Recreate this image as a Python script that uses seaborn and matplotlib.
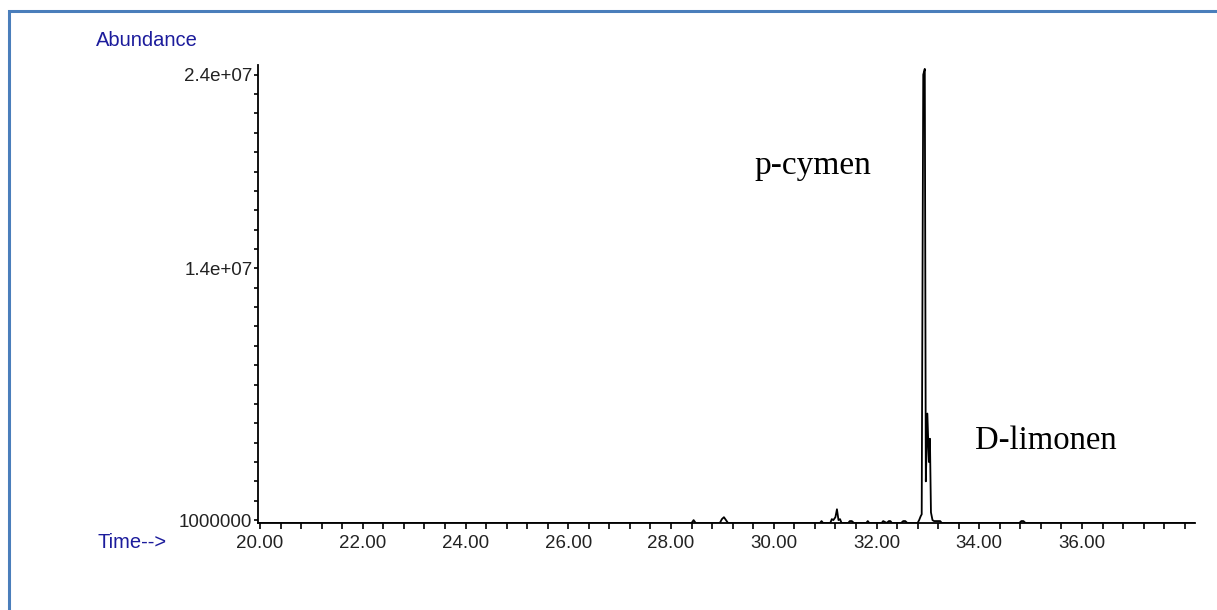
import matplotlib
matplotlib.use("Agg")
import numpy as np
import pandas as pd
import matplotlib.pyplot as plt
import seaborn as sns
from matplotlib.patches import Rectangle
from matplotlib.ticker import FixedLocator, MultipleLocator

# Retention time (min) and abundance
time = [19.96, 28.40, 28.44, 28.48, 28.95, 28.99, 29.03, 29.07, 29.11,
        30.90, 30.93, 30.96, 31.10, 31.13, 31.16, 31.20, 31.23, 31.26, 31.29,
        31.32, 31.45, 31.48, 31.52, 31.56, 31.80, 31.83, 31.86, 32.10, 32.13,
        32.20, 32.24, 32.27, 32.30, 32.48, 32.52, 32.56, 32.60, 32.80, 32.83,
        32.86, 32.88, 32.89, 32.91, 32.94, 32.96, 32.99, 33.02, 33.04, 33.06,
        33.09, 33.12, 33.16, 33.20, 33.24, 33.27, 34.78, 34.82, 34.86, 34.90, 38.20]
abundance = [8.5e5, 8.5e5, 1.0e6, 8.5e5, 8.5e5, 1.05e6, 1.15e6, 1.0e6, 8.5e5,
             8.5e5, 9.5e5, 8.5e5, 8.5e5, 1.05e6, 1.0e6, 1.15e6, 1.56e6, 1.0e6, 1.05e6,
             8.5e5, 8.5e5, 9.5e5, 9.5e5, 8.5e5, 8.5e5, 9.5e5, 8.5e5, 8.5e5, 9.5e5,
             8.5e5, 9.5e5, 9.5e5, 8.5e5, 8.5e5, 9.5e5, 9.5e5, 8.5e5, 8.5e5, 1.0e6,
             1.2e6, 1.3e6, 9.2e6, 2.40e7, 2.43e7, 3.0e6, 6.5e6, 4.0e6, 5.2e6, 1.4e6,
             1.0e6, 9.5e5, 9.5e5, 9.5e5, 9.5e5, 8.5e5, 8.5e5, 9.5e5, 9.5e5, 8.5e5, 8.5e5]

ytick_vals = [1.0e6, 1.4e7, 2.4e7]
ytick_labels = ["1000000", "1.4e+07", "2.4e+07"]
xtick_vals = [20, 22, 24, 26, 28, 30, 32, 34, 36]
xtick_labels = ["20.00", "22.00", "24.00", "26.00", "28.00", "30.00", "32.00", "34.00", "36.00"]

df = pd.DataFrame({"Time": time, "Abundance": abundance})

sns.set_style("ticks")
plt.rcParams["font.family"] = ["Liberation Sans", "DejaVu Sans"]

fig = plt.figure(figsize=(12.17, 6.10), dpi=100)
ax = fig.add_axes([258 / 1217, 1 - 523 / 610, (1195 - 258) / 1217, (523 - 65) / 610])

sns.lineplot(data=df, x="Time", y="Abundance", ax=ax, color="black",
             linewidth=1.3, sort=False, estimator=None)

ax.set_xlim(19.96, 38.2)
ax.set_ylim(8.5e5, 2.45e7)

for side in ["top", "right"]:
    ax.spines[side].set_visible(False)
for side in ["left", "bottom"]:
    ax.spines[side].set_linewidth(1.3)
    ax.spines[side].set_color("black")

ax.xaxis.set_major_locator(FixedLocator(xtick_vals))
ax.set_xticklabels(xtick_labels)
ax.xaxis.set_minor_locator(MultipleLocator(0.4))
ax.yaxis.set_major_locator(FixedLocator(ytick_vals))
ax.set_yticklabels(ytick_labels)
ax.yaxis.set_minor_locator(MultipleLocator(1e6))
ax.tick_params(which="both", direction="out", color="black", width=1.2, length=4,
               labelsize=13.5, labelcolor="#222222", pad=5)
ax.tick_params(axis="y", which="both", length=3, pad=1)
ax.set_xlabel("")
ax.set_ylabel("")

fig.text(96 / 1217, 1 - 41 / 610, "Abundance", color="#1c1c9c", fontsize=14.5,
         va="center", ha="left")
fig.text(97 / 1217, 1 - 543 / 610, "Time-->", color="#1c1c9c", fontsize=14.5,
         va="center", ha="left")

ax.text(29.63, 1.93e7, "p-cymen", family="Liberation Serif", fontsize=24,
        color="black", va="center")
ax.text(33.91, 5.1e6, "D-limonen", family="Liberation Serif", fontsize=23.5,
        color="black", va="center")

# blue frame around the figure (only left and top edges are visible)
fig.patches.append(Rectangle((8.5 / 1217, -0.2), 1.5, (610 - 10.5) / 610 + 0.2,
                             transform=fig.transFigure, fill=False,
                             edgecolor="#4a7ebb", linewidth=2.2))

fig.savefig("out.png", dpi=100)
